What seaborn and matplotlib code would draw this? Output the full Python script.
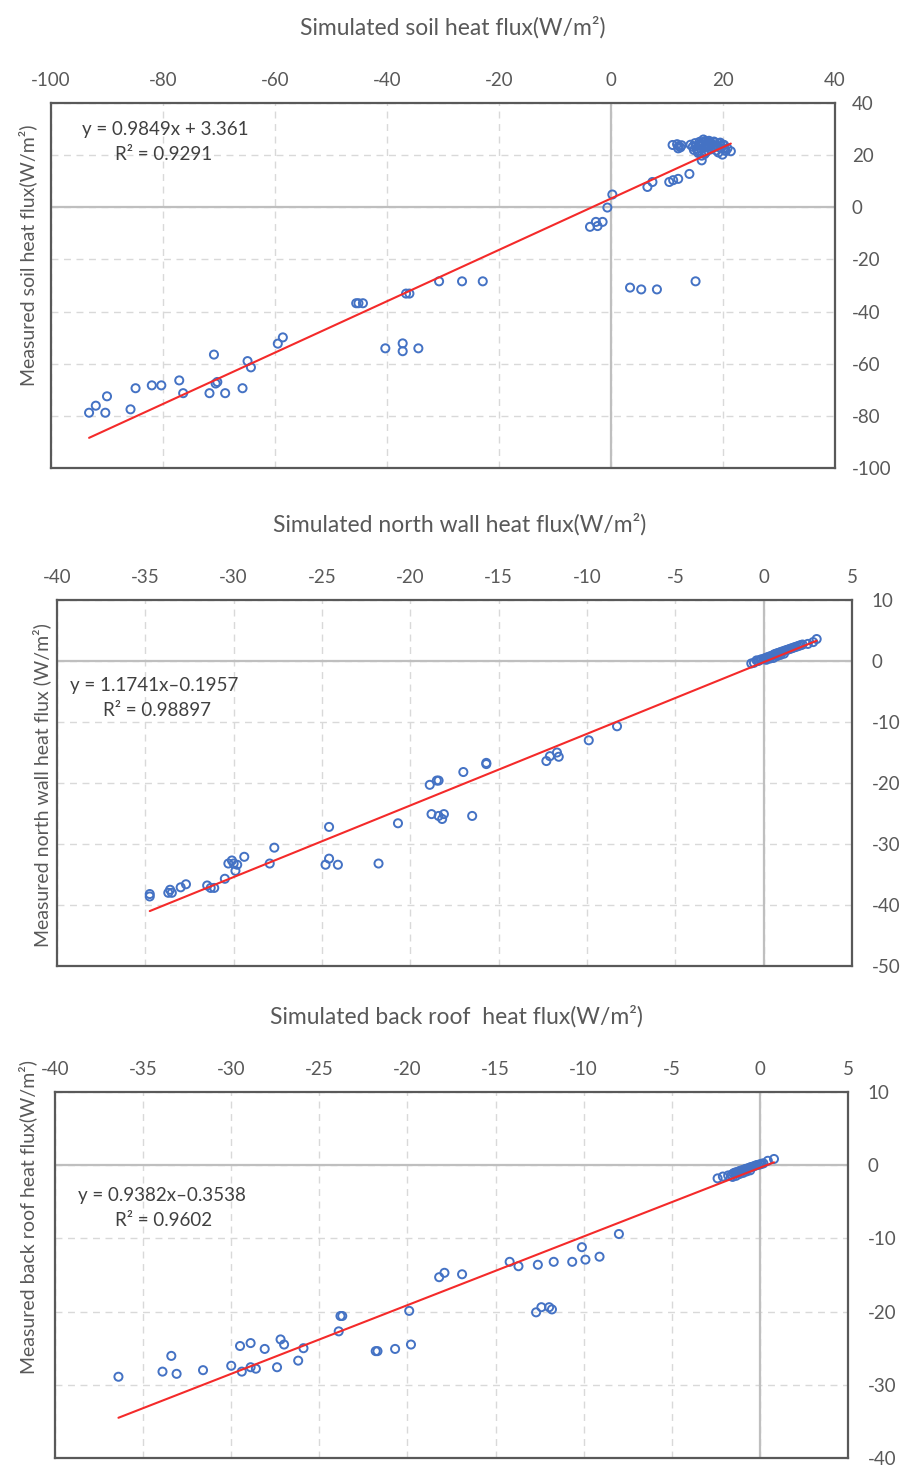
import matplotlib
matplotlib.use("Agg")
import matplotlib.pyplot as plt
import numpy as np
import pandas as pd
import seaborn as sns

# ---------------- data ----------------
# Soil heat flux (simulated x, measured y)
soil_sim = [-93.2, -92.0, -90.3, -90.0, -85.8, -84.9, -82.0, -80.3, -77.1, -76.4,
            -71.7, -70.9, -70.6, -70.3, -68.9, -65.8, -64.9, -64.3, -59.5, -58.6,
            -45.5, -45.1, -44.3, -40.3, -37.2, -37.2, -34.4, -36.6, -36.0, -30.7,
            -26.6, -22.9, -3.75, -2.7, -2.4, -1.5, -0.65, 0.24, 3.4, 5.4,
            8.2, 15.1, 6.5, 7.4, 10.4, 11.1, 12.0, 14.0,
            11.0, 11.8, 12.1, 12.4, 12.0, 12.6, 14.2, 14.6, 15.0, 15.3,
            15.5, 15.8, 16.0, 16.2, 16.4, 16.6, 16.8, 17.0, 17.2, 17.4,
            17.6, 17.8, 18.0, 18.2, 18.5, 18.8, 19.0, 19.3, 19.6, 19.9,
            20.2, 20.5, 20.8, 21.4, 16.2, 15.6, 17.1, 18.4, 19.2, 20.0,
            14.8, 15.9, 16.7, 17.5, 18.7, 19.5, 20.3, 16.5, 17.9, 15.2]
soil_meas = [-78.8, -76.1, -78.8, -72.5, -77.5, -69.4, -68.3, -68.3, -66.4, -71.3,
             -71.3, -56.5, -67.6, -67.0, -71.3, -69.4, -59.0, -61.4, -52.3, -49.9,
             -36.8, -36.8, -36.8, -54.1, -52.2, -55.2, -54.1, -33.1, -33.1, -28.4,
             -28.4, -28.4, -7.5, -5.6, -7.2, -5.6, -0.1, 4.9, -30.8, -31.5,
             -31.5, -28.4, 7.8, 9.7, 9.7, 10.4, 10.9, 12.8,
             23.9, 24.2, 23.5, 23.0, 22.6, 23.8, 24.0, 23.2, 24.6, 22.5,
             21.5, 25.1, 23.8, 18.0, 24.9, 22.8, 25.4, 21.2, 24.6, 23.4,
             25.0, 22.2, 24.2, 23.0, 24.8, 21.8, 23.6, 24.4, 22.6, 20.2,
             23.9, 21.6, 22.6, 21.5, 19.8, 20.8, 23.1, 25.2, 21.0, 24.0,
             22.0, 24.3, 20.4, 25.5, 23.2, 24.8, 22.4, 26.0, 24.5, 23.5]

# North wall heat flux
wall_sim = [-34.75, -34.75, -33.6, -33.7, -33.5, -33.0, -32.7, -31.5, -31.3, -31.1,
            -30.5, -30.3, -30.1, -30.0, -29.8, -29.9, -29.4, -27.96, -27.7, -24.6,
            -24.8, -24.6, -24.1, -21.8, -20.7, -18.9, -18.5, -18.4, -18.8, -18.4,
            -18.1, -18.2, -17.0, -16.5, -15.7, -15.7, -12.3, -12.1, -11.7, -11.6,
            -9.9, -8.3,
            -0.7, -0.55, -0.4, -0.3, -0.2, -0.1, 0.0, 0.1, 0.2, 0.3,
            0.4, 0.5, 0.6, 0.7, 0.8, 0.9, 1.0, 1.1, 1.2, 1.3,
            1.4, 1.5, 1.6, 1.7, 1.8, 1.9, 2.0, 2.1, 2.2, 2.5,
            2.8, 3.0, 0.15, 0.35, 0.55, 0.75, 0.95, 1.15]
wall_meas = [-38.2, -38.6, -37.5, -38.0, -38.0, -37.1, -36.6, -36.8, -37.2, -37.2,
             -35.7, -33.2, -32.7, -33.2, -33.4, -34.4, -32.1, -33.2, -30.6, -27.2,
             -33.4, -32.4, -33.4, -33.2, -26.6, -20.3, -19.6, -19.6, -25.1, -25.4,
             -25.1, -25.9, -18.2, -25.4, -16.9, -16.7, -16.4, -15.6, -15.0, -15.7,
             -13.0, -10.7,
             -0.4, -0.3, 0.1, 0.0, 0.2, 0.3, 0.3, 0.5, 0.6, 0.7,
             0.8, 0.9, 1.1, 1.2, 1.3, 1.4, 1.5, 1.6, 1.7, 1.8,
             1.9, 2.0, 2.1, 2.2, 2.3, 2.4, 2.5, 2.6, 2.7, 2.8,
             3.1, 3.6, 0.2, 0.4, 0.5, 0.8, 1.0, 1.2]

# Back roof heat flux
roof_sim = [-36.4, -33.9, -33.4, -33.1, -31.6, -30.0, -29.5, -29.4, -28.9, -28.9,
            -28.6, -28.1, -27.4, -27.2, -27.0, -26.2, -25.9, -23.9, -23.8, -23.7,
            -21.8, -21.7, -20.7, -19.9, -19.8, -18.2, -17.9, -16.9, -14.2, -13.7,
            -12.7, -12.4, -11.96, -11.8, -12.6, -11.7, -10.65, -10.1, -9.9, -9.1,
            -8.0,
            -2.4, -2.1, -1.8, -1.6, -1.5, -1.4, -1.3, -1.2, -1.1, -1.0,
            -0.9, -0.8, -0.7, -0.6, -0.5, -0.4, -0.3, -0.2, -0.1, 0.0,
            0.1, 0.2, 0.45, 0.8, -1.55, -1.35, -1.15, -0.95, -0.75, -0.55]
roof_meas = [-28.9, -28.2, -26.05, -28.5, -28.0, -27.4, -24.7, -28.2, -24.3, -27.6,
             -27.8, -25.1, -27.6, -23.8, -24.5, -26.7, -25.0, -22.7, -20.6, -20.6,
             -25.4, -25.4, -25.1, -19.9, -24.5, -15.3, -14.7, -14.9, -13.2, -13.8,
             -20.1, -19.4, -19.4, -19.7, -13.6, -13.2, -13.2, -11.2, -12.9, -12.5,
             -9.4,
             -1.8, -1.55, -1.4, -1.3, -1.1, -1.0, -0.95, -0.85, -0.75, -0.7,
             -0.6, -0.5, -0.45, -0.35, -0.25, -0.2, -0.1, 0.0, 0.05, 0.1,
             0.2, 0.25, 0.6, 0.85, -1.6, -1.45, -1.2, -1.05, -0.85, -0.7]

# Linear fits reported on each panel
soil_fit = (0.9849, 3.361, 0.9291)
wall_fit = (1.1741, -0.1957, 0.98897)
roof_fit = (0.9382, -0.3538, 0.9602)

soil_xticks = [-100, -80, -60, -40, -20, 0, 20, 40]
soil_yticks = [40, 20, 0, -20, -40, -60, -80, -100]
wall_xticks = [-40, -35, -30, -25, -20, -15, -10, -5, 0, 5]
wall_yticks = [10, 0, -10, -20, -30, -40, -50]
roof_xticks = [-40, -35, -30, -25, -20, -15, -10, -5, 0, 5]
roof_yticks = [10, 0, -10, -20, -30, -40]

# ---------------- style ----------------
sns.set_theme(style="white")
plt.rcParams["font.family"] = ["Lato", "DejaVu Sans"]
plt.rcParams["axes.unicode_minus"] = False

W, H = 905, 1468
fig = plt.figure(figsize=(W / 100, H / 100), dpi=100)

TEXT = "#595959"
BLUE = "#4472C4"
RED = "#F42A2A"


def box(left, top, right, bottom):
    return [left / W, 1 - bottom / H, (right - left) / W, (bottom - top) / H]


def ftext(x, y, s, **kw):
    fig.text(x / W, 1 - y / H, s, **kw)


panels = [
    dict(rect=box(51, 103, 835, 468), x=soil_sim, y=soil_meas, fit=soil_fit,
         xticks=soil_xticks, yticks=soil_yticks, xpad=10, ypad=12,
         title="Simulated soil heat flux(W/m²)", title_xy=(453, 27),
         ylabel="Measured soil heat flux(W/m²)", ylabel_xy=(28, 255),
         eq_xy=(82, 130), r2_xy=(115, 155), eq_fmt="y = {a}x + {b}"),
    dict(rect=box(57, 600, 852, 966), x=wall_sim, y=wall_meas, fit=wall_fit,
         xticks=wall_xticks, yticks=wall_yticks, xpad=10, ypad=14,
         title="Simulated north wall heat flux(W/m²)", title_xy=(460, 524),
         ylabel="Measured north wall heat flux (W/m²)", ylabel_xy=(42, 785),
         eq_xy=(70, 686), r2_xy=(103, 711), eq_fmt="y = {a}x\u2013{b}"),
    dict(rect=box(55, 1092, 848, 1458), x=roof_sim, y=roof_meas, fit=roof_fit,
         xticks=roof_xticks, yticks=roof_yticks, xpad=10, ypad=14,
         title="Simulated back roof  heat flux(W/m²)", title_xy=(456, 1016),
         ylabel="Measured back roof heat flux(W/m²)", ylabel_xy=(28, 1217),
         eq_xy=(78, 1196), r2_xy=(115, 1221), eq_fmt="y = {a}x\u2013{b}"),
]

for p in panels:
    ax = fig.add_axes(p["rect"])
    xt, yt = p["xticks"], p["yticks"]
    ax.set_xlim(min(xt), max(xt))
    ax.set_ylim(min(yt), max(yt))
    ax.set_xticks(xt)
    ax.set_yticks(yt)
    ax.set_xticklabels([str(v) for v in xt])
    ax.set_yticklabels([str(v) for v in yt])
    ax.xaxis.tick_top()
    ax.yaxis.tick_right()
    ax.tick_params(axis="x", length=0, pad=p["xpad"], labelsize=13.5, labelcolor=TEXT)
    ax.tick_params(axis="y", length=0, pad=p["ypad"], labelsize=13.5, labelcolor=TEXT)
    for lbl in ax.get_yticklabels():
        lbl.set_horizontalalignment("left")

    ax.grid(True, linestyle=(0, (5, 4)), color="#D9D9D9", linewidth=1.0)
    ax.axhline(0, color="#BFBFBF", linewidth=1.6, zorder=1)
    ax.axvline(0, color="#BFBFBF", linewidth=1.6, zorder=1)
    for s in ax.spines.values():
        s.set_visible(True)
        s.set_color("#595959")
        s.set_linewidth(1.6)

    df = pd.DataFrame({"sim": p["x"], "meas": p["y"]})
    sns.scatterplot(data=df, x="sim", y="meas", ax=ax, marker="o", s=34,
                    facecolor="none", edgecolor=BLUE, linewidth=1.4, zorder=3)

    a, b, r2 = p["fit"]
    xs = np.array([df["sim"].min(), df["sim"].max()])
    line = pd.DataFrame({"sim": xs, "meas": a * xs + b})
    sns.lineplot(data=line, x="sim", y="meas", ax=ax, color=RED, linewidth=1.5, zorder=4)
    ax.set_xlabel("")
    ax.set_ylabel("")

    ftext(*p["title_xy"], p["title"], ha="center", va="center", fontsize=16.5, color=TEXT)
    ftext(*p["ylabel_xy"], p["ylabel"], ha="center", va="center", rotation=90,
          fontsize=14, color=TEXT)
    eq = p["eq_fmt"].format(a=f"{a}", b=f"{abs(b)}")
    ftext(*p["eq_xy"], eq, ha="left", va="center", fontsize=13.5, color="#404040")
    ftext(*p["r2_xy"], f"R² = {r2}", ha="left", va="center", fontsize=13.5, color="#404040")

fig.savefig("out.png", dpi=100)
